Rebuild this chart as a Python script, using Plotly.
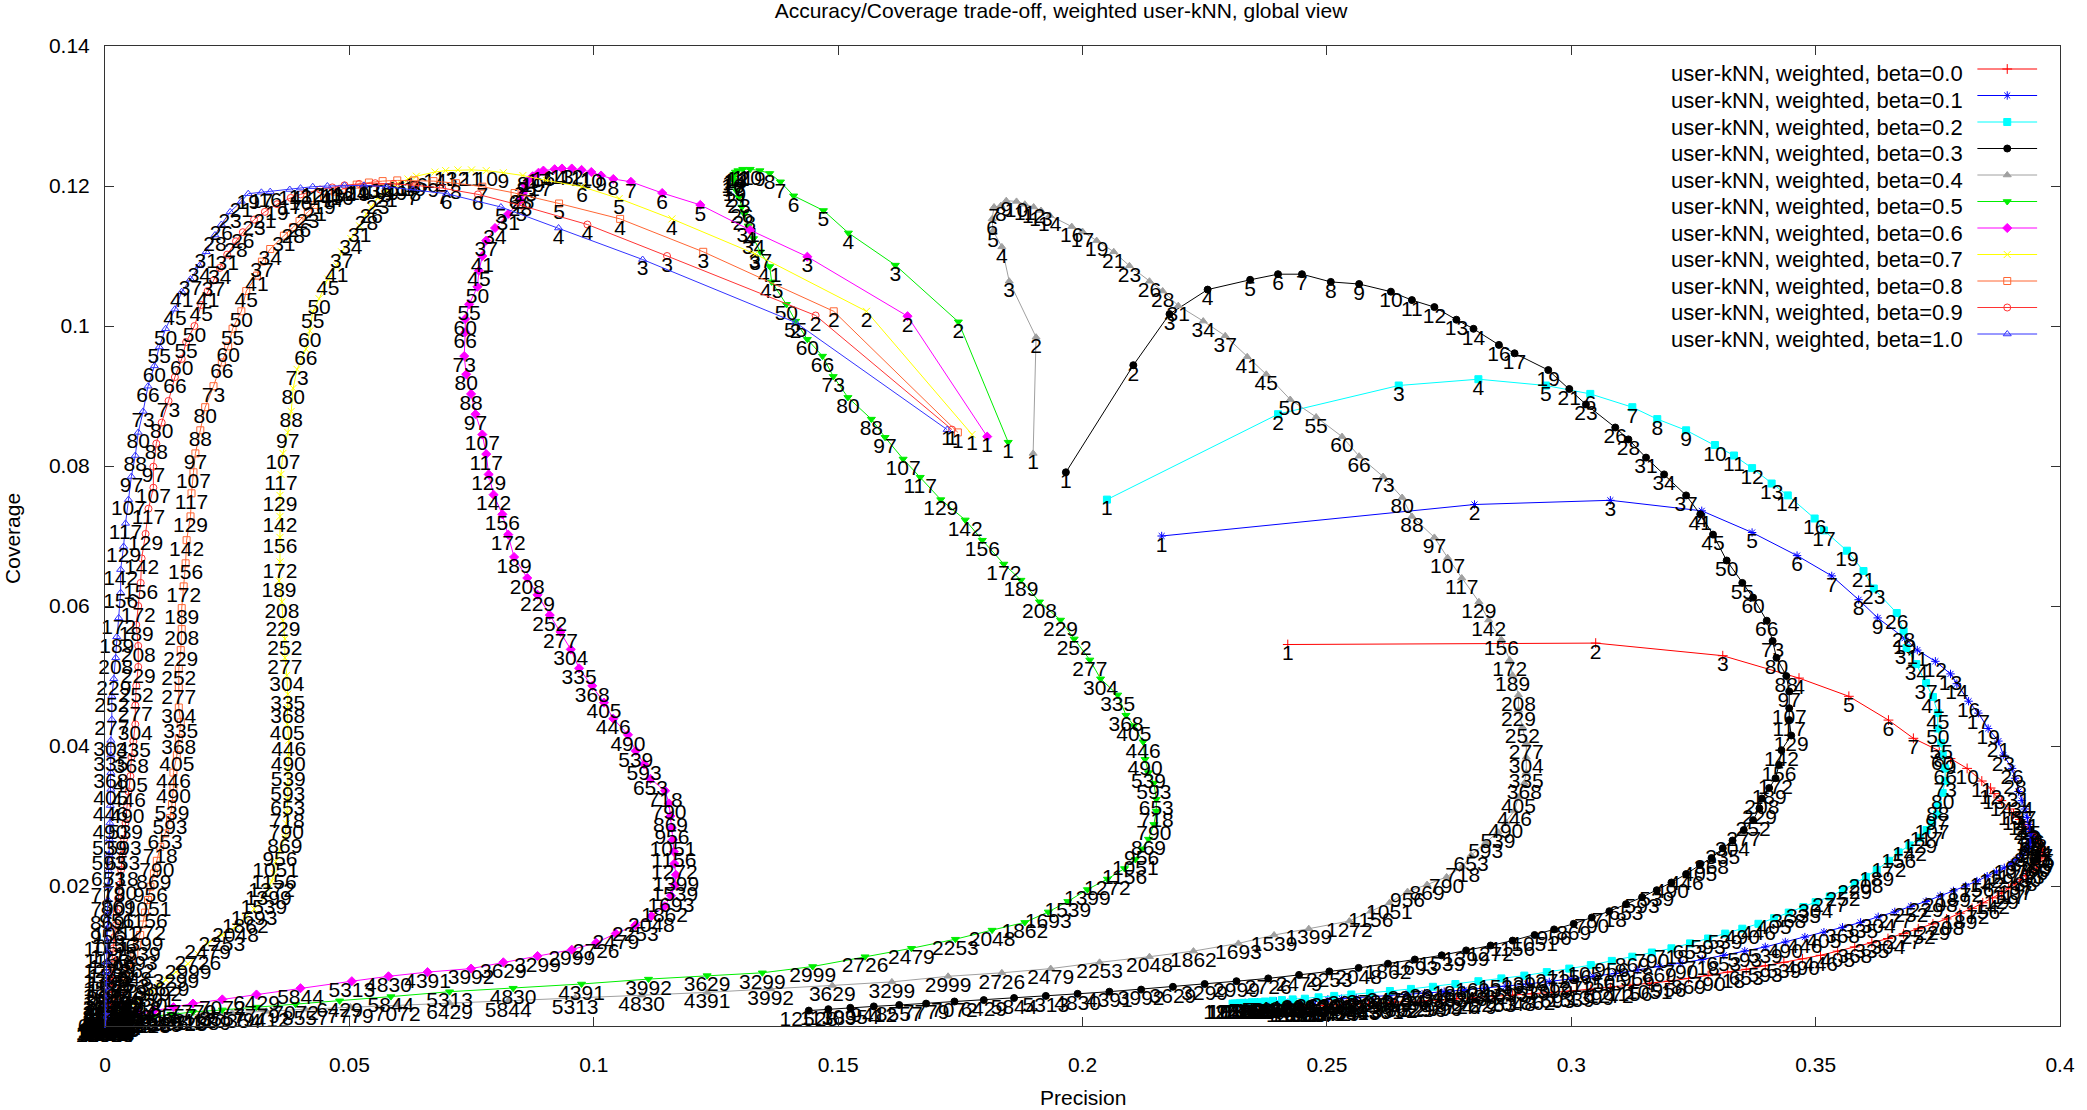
import plotly.graph_objects as go

# neighbourhood sizes k (point labels)
K = [1, 2, 3, 4, 5, 6, 7, 8, 9, 10,
     11, 12, 13, 14, 16, 17, 19, 21, 23, 26,
     28, 31, 34, 37, 41, 45, 50, 55, 60, 66,
     73, 80, 88, 97, 107, 117, 129, 142, 156, 172,
     189, 208, 229, 252, 277, 304, 335, 368, 405, 446,
     490, 539, 593, 653, 718, 790, 869, 956, 1051, 1156,
     1272, 1399, 1539, 1693, 1862, 2048, 2253, 2479, 2726, 2999,
     3299, 3629, 3992, 4391, 4830, 5313, 5844, 6429, 7072, 7779,
     8557, 9412, 10354, 11389, 12528]

BETAS = [0.0, 0.1, 0.2, 0.3, 0.4, 0.5, 0.6, 0.7, 0.8, 0.9, 1.0]

# ---- beta = 0.0 ----
P_B00 = [0.242, 0.305, 0.331, 0.3466, 0.3568, 0.3649, 0.370, 0.3753, 0.3776, 0.381,
         0.384, 0.3858, 0.3865, 0.388, 0.3897, 0.3905, 0.3918, 0.3928, 0.3935, 0.3945,
         0.395, 0.3955, 0.396, 0.3962, 0.3964, 0.3965, 0.3963, 0.396, 0.3957, 0.3952,
         0.3945, 0.3938, 0.393, 0.392, 0.3908, 0.3895, 0.388, 0.3862, 0.3842, 0.382,
         0.3795, 0.3768, 0.374, 0.371, 0.368, 0.3648, 0.3615, 0.358, 0.3545, 0.351,
         0.3473, 0.3435, 0.3397, 0.3358, 0.332, 0.328, 0.324, 0.320, 0.316, 0.312,
         0.308, 0.304, 0.300, 0.296, 0.292, 0.288, 0.284, 0.280, 0.2765, 0.273,
         0.2698, 0.2667, 0.2638, 0.261, 0.2585, 0.2562, 0.254, 0.252, 0.2502, 0.2486,
         0.2472, 0.246, 0.245, 0.2442, 0.2435]
C_B00 = [0.0545, 0.0547, 0.0529, 0.0497, 0.0471, 0.0437, 0.0411, 0.0393, 0.0382, 0.0368,
         0.0350, 0.0340, 0.0332, 0.0322, 0.0310, 0.0303, 0.0295, 0.0288, 0.0282, 0.0275,
         0.0270, 0.0265, 0.0260, 0.0256, 0.0252, 0.0248, 0.0244, 0.0240, 0.0236, 0.0231,
         0.0226, 0.0221, 0.0215, 0.0209, 0.0203, 0.0197, 0.0190, 0.0183, 0.0176, 0.0168,
         0.0161, 0.0153, 0.0146, 0.0139, 0.0132, 0.0125, 0.0119, 0.0113, 0.0107, 0.0101,
         0.0096, 0.0091, 0.0086, 0.0081, 0.0077, 0.0072, 0.0068, 0.0064, 0.0061, 0.0058,
         0.0055, 0.0052, 0.0050, 0.0048, 0.0046, 0.0044, 0.0042, 0.0040, 0.0039, 0.0037,
         0.0036, 0.0035, 0.0034, 0.0033, 0.0032, 0.0031, 0.0031, 0.0030, 0.0030, 0.0029,
         0.0029, 0.0029, 0.0028, 0.0028, 0.0028]

# ---- beta = 0.1 ----
P_B01 = [0.2162, 0.2802, 0.308, 0.3267, 0.337, 0.3462, 0.3533, 0.3588, 0.3627, 0.3682,
         0.3708, 0.3745, 0.3776, 0.3789, 0.3813, 0.3833, 0.3853, 0.3874, 0.3884, 0.3902,
         0.3908, 0.3915, 0.3922, 0.3928, 0.3933, 0.3937, 0.394, 0.3941, 0.394, 0.3938,
         0.3935, 0.393, 0.3922, 0.3912, 0.390, 0.3886, 0.387, 0.3851, 0.383, 0.3807,
         0.3782, 0.3755, 0.3726, 0.3695, 0.3662, 0.3628, 0.3592, 0.3555, 0.3517, 0.3478,
         0.3438, 0.3397, 0.3355, 0.3312, 0.3268, 0.3224, 0.318, 0.3135, 0.309, 0.3045,
         0.300, 0.2955, 0.291, 0.2866, 0.2823, 0.2781, 0.274, 0.270, 0.2662, 0.2626,
         0.2592, 0.256, 0.253, 0.2502, 0.2477, 0.2454, 0.2433, 0.2414, 0.2397, 0.2382,
         0.2369, 0.2358, 0.2348, 0.234, 0.2333]
C_B01 = [0.0700, 0.0745, 0.0751, 0.0736, 0.0705, 0.0672, 0.0643, 0.0609, 0.0583, 0.0554,
         0.0537, 0.0521, 0.0503, 0.0489, 0.0464, 0.0447, 0.0425, 0.0407, 0.0387, 0.0368,
         0.0354, 0.0335, 0.0322, 0.0310, 0.0298, 0.0288, 0.0278, 0.0271, 0.0265, 0.0260,
         0.0255, 0.0250, 0.0244, 0.0238, 0.0232, 0.0226, 0.0220, 0.0214, 0.0207, 0.0200,
         0.0193, 0.0186, 0.0178, 0.0171, 0.0163, 0.0156, 0.0148, 0.0141, 0.0134, 0.0127,
         0.0120, 0.0113, 0.0107, 0.0101, 0.0095, 0.0090, 0.0085, 0.0080, 0.0075, 0.0071,
         0.0067, 0.0063, 0.0060, 0.0057, 0.0054, 0.0051, 0.0049, 0.0047, 0.0045, 0.0043,
         0.0042, 0.0040, 0.0039, 0.0038, 0.0037, 0.0036, 0.0036, 0.0035, 0.0035, 0.0034,
         0.0034, 0.0034, 0.0033, 0.0033, 0.0033]

# ---- beta = 0.2 ----
P_B02 = [0.205, 0.240, 0.2647, 0.281, 0.2948, 0.3039, 0.3125, 0.3176, 0.3235, 0.3294,
         0.3333, 0.337, 0.341, 0.3443, 0.3498, 0.3517, 0.3564, 0.3598, 0.3619, 0.3666,
         0.368, 0.3686, 0.3706, 0.3726, 0.374, 0.375, 0.375, 0.3757, 0.376, 0.3765,
         0.3765, 0.376, 0.375, 0.3748, 0.3738, 0.3727, 0.3713, 0.3692, 0.367, 0.365,
         0.3625, 0.3603, 0.358, 0.3556, 0.3529, 0.350, 0.3475, 0.3445, 0.3415, 0.3383,
         0.335, 0.3315, 0.328, 0.3243, 0.3205, 0.3165, 0.3125, 0.3083, 0.304, 0.2996,
         0.295, 0.2904, 0.2857, 0.281, 0.2763, 0.2717, 0.2672, 0.2629, 0.2588, 0.255,
         0.2515, 0.2483, 0.2455, 0.243, 0.2408, 0.2389, 0.2373, 0.2359, 0.2347, 0.2337,
         0.2329, 0.2322, 0.2316, 0.2311, 0.2307]
C_B02 = [0.0752, 0.0874, 0.0915, 0.0924, 0.0915, 0.0903, 0.0884, 0.0867, 0.0851, 0.0830,
         0.0815, 0.0797, 0.0775, 0.0758, 0.0725, 0.0708, 0.0679, 0.0650, 0.0625, 0.0590,
         0.0564, 0.0540, 0.0517, 0.0490, 0.0470, 0.0447, 0.0425, 0.0404, 0.0388, 0.0368,
         0.0350, 0.0333, 0.0316, 0.0302, 0.0290, 0.0280, 0.0269, 0.0258, 0.0248, 0.0236,
         0.0223, 0.0213, 0.0204, 0.0194, 0.0185, 0.0177, 0.0170, 0.0162, 0.0154, 0.0146,
         0.0139, 0.0132, 0.0125, 0.0118, 0.0111, 0.0105, 0.0099, 0.0093, 0.0087, 0.0082,
         0.0077, 0.0072, 0.0068, 0.0064, 0.0060, 0.0056, 0.0053, 0.0050, 0.0047, 0.0045,
         0.0043, 0.0041, 0.0039, 0.0038, 0.0037, 0.0036, 0.0035, 0.0034, 0.0034, 0.0033,
         0.0033, 0.0033, 0.0032, 0.0032, 0.0032]

# ---- beta = 0.3 ----
P_B03 = [0.1966, 0.2104, 0.2178, 0.2256, 0.2343, 0.240, 0.2449, 0.2508, 0.2566, 0.2631,
         0.2674, 0.272, 0.2765, 0.280, 0.2852, 0.2884, 0.2953, 0.2996, 0.303, 0.309,
         0.3117, 0.3153, 0.319, 0.3235, 0.3264, 0.329, 0.3318, 0.335, 0.3372, 0.340,
         0.3412, 0.342, 0.344, 0.3446, 0.3446, 0.3446, 0.345, 0.343, 0.3425, 0.3418,
         0.3405, 0.339, 0.3385, 0.3372, 0.3353, 0.333, 0.331, 0.3287, 0.3263, 0.3235,
         0.3205, 0.3175, 0.3145, 0.3112, 0.3078, 0.3042, 0.3005, 0.2965, 0.2925, 0.288,
         0.2835, 0.2785, 0.2735, 0.268, 0.2625, 0.2565, 0.2505, 0.2443, 0.238, 0.2315,
         0.225, 0.2185, 0.212, 0.2055, 0.199, 0.1925, 0.186, 0.1798, 0.1738, 0.168,
         0.1625, 0.1573, 0.1525, 0.148, 0.144]
C_B03 = [0.0791, 0.0944, 0.1017, 0.1052, 0.1066, 0.1074, 0.1074, 0.1063, 0.1060, 0.1049,
         0.1037, 0.1027, 0.1009, 0.0996, 0.0973, 0.0961, 0.0937, 0.0910, 0.0888, 0.0855,
         0.0838, 0.0812, 0.0788, 0.0758, 0.0731, 0.0702, 0.0665, 0.0633, 0.0612, 0.0579,
         0.0550, 0.0526, 0.0500, 0.0478, 0.0454, 0.0437, 0.0415, 0.0394, 0.0373, 0.0354,
         0.0340, 0.0325, 0.0311, 0.0294, 0.0280, 0.0265, 0.0254, 0.0240, 0.0230, 0.0217,
         0.0205, 0.0194, 0.0184, 0.0174, 0.0164, 0.0155, 0.0146, 0.0138, 0.0130, 0.0122,
         0.0115, 0.0108, 0.0101, 0.0095, 0.0089, 0.0083, 0.0078, 0.0073, 0.0068, 0.0064,
         0.0060, 0.0056, 0.0052, 0.0049, 0.0046, 0.0043, 0.0040, 0.0037, 0.0035, 0.0032,
         0.0030, 0.0028, 0.0026, 0.0024, 0.0022]

# ---- beta = 0.4 ----
P_B04 = [0.1899, 0.1905, 0.185, 0.1835, 0.1817, 0.1815, 0.1819, 0.1833, 0.1844, 0.1865,
         0.1882, 0.190, 0.1915, 0.1933, 0.1978, 0.200, 0.2029, 0.2064, 0.2096, 0.2137,
         0.2164, 0.2196, 0.2247, 0.2292, 0.2337, 0.2376, 0.2425, 0.2478, 0.2531, 0.2566,
         0.2615, 0.2654, 0.2674, 0.272, 0.2747, 0.2776, 0.2811, 0.2831, 0.2857, 0.2874,
         0.288, 0.2892, 0.2892, 0.290, 0.2908, 0.2908, 0.2908, 0.2904, 0.2892, 0.2884,
         0.2866, 0.285, 0.2825, 0.2795, 0.2778, 0.2745, 0.2705, 0.2665, 0.2628, 0.259,
         0.2546, 0.2463, 0.2392, 0.2319, 0.2227, 0.2137, 0.2035, 0.1935, 0.1835, 0.1725,
         0.161, 0.1488, 0.1362, 0.1232, 0.1098, 0.0962, 0.0825, 0.0705, 0.0598, 0.0502,
         0.041, 0.033, 0.026, 0.020, 0.015]
C_B04 = [0.0818, 0.0984, 0.1064, 0.1113, 0.1136, 0.1153, 0.1170, 0.1172, 0.1179, 0.1178,
         0.1174, 0.1170, 0.1165, 0.1158, 0.1142, 0.1135, 0.1122, 0.1106, 0.1086, 0.1064,
         0.1050, 0.1029, 0.1007, 0.0986, 0.0956, 0.0931, 0.0895, 0.0870, 0.0842, 0.0814,
         0.0785, 0.0755, 0.0728, 0.0698, 0.0669, 0.0640, 0.0606, 0.0580, 0.0552, 0.0523,
         0.0501, 0.0473, 0.0451, 0.0427, 0.0404, 0.0384, 0.0362, 0.0347, 0.0327, 0.0308,
         0.0291, 0.0277, 0.0262, 0.0244, 0.0228, 0.0213, 0.0202, 0.0192, 0.0176, 0.0164,
         0.0150, 0.0139, 0.0130, 0.0118, 0.0107, 0.0099, 0.0091, 0.0082, 0.0076, 0.0071,
         0.0063, 0.0058, 0.0053, 0.0048, 0.0044, 0.0040, 0.0036, 0.0033, 0.0030, 0.0027,
         0.0024, 0.0021, 0.0019, 0.0017, 0.0015]

# ---- beta = 0.5 ----
P_B05 = [0.1848, 0.1746, 0.1617, 0.1521, 0.147, 0.1409, 0.1382, 0.136, 0.134, 0.132,
         0.1305, 0.1295, 0.129, 0.1287, 0.1285, 0.1286, 0.1288, 0.1292, 0.1297, 0.1303,
         0.1308, 0.1316, 0.1327, 0.1341, 0.136, 0.1364, 0.1394, 0.1413, 0.1437, 0.1468,
         0.149, 0.152, 0.1568, 0.1596, 0.1633, 0.1668, 0.171, 0.176, 0.1795, 0.1839,
         0.1874, 0.1912, 0.1955, 0.1983, 0.2015, 0.2037, 0.2072, 0.2089, 0.2105, 0.2124,
         0.2128, 0.2135, 0.2146, 0.2151, 0.2151, 0.2146, 0.2135, 0.2121, 0.2108, 0.2086,
         0.2051, 0.201, 0.197, 0.193, 0.1882, 0.1815, 0.174, 0.165, 0.1555, 0.1448,
         0.1345, 0.1232, 0.1112, 0.0975, 0.0835, 0.0705, 0.0585, 0.048, 0.039, 0.031,
         0.024, 0.018, 0.0135, 0.010, 0.0075]
C_B05 = [0.0834, 0.1006, 0.1087, 0.1133, 0.1165, 0.1186, 0.1206, 0.1218, 0.1222, 0.1224,
         0.1224, 0.1222, 0.1220, 0.1217, 0.1212, 0.1208, 0.1201, 0.1193, 0.1184, 0.1170,
         0.1160, 0.1143, 0.1125, 0.1106, 0.1085, 0.1063, 0.1031, 0.1007, 0.0981, 0.0957,
         0.0928, 0.0898, 0.0867, 0.0841, 0.0810, 0.0784, 0.0752, 0.0723, 0.0694, 0.0660,
         0.0637, 0.0606, 0.0580, 0.0553, 0.0523, 0.0496, 0.0473, 0.0444, 0.0429, 0.0406,
         0.0381, 0.0362, 0.0347, 0.0324, 0.0307, 0.0288, 0.0267, 0.0253, 0.0238, 0.0225,
         0.0210, 0.0195, 0.0178, 0.0163, 0.0148, 0.0137, 0.0124, 0.0111, 0.0099, 0.0085,
         0.0076, 0.0072, 0.0067, 0.0060, 0.0054, 0.0049, 0.0042, 0.0036, 0.0031, 0.0027,
         0.0023, 0.0020, 0.0017, 0.0014, 0.0012]

# ---- beta = 0.6 ----
P_B06 = [0.1805, 0.1642, 0.1437, 0.132, 0.1218, 0.114, 0.1076, 0.104, 0.1015, 0.0995,
         0.0975, 0.0955, 0.0935, 0.092, 0.0897, 0.0887, 0.0875, 0.0866, 0.086, 0.0855,
         0.085, 0.0825, 0.0798, 0.078, 0.0772, 0.0765, 0.0762, 0.0745, 0.0737, 0.0737,
         0.0735, 0.0739, 0.0749, 0.0758, 0.0772, 0.078, 0.0785, 0.0795, 0.0813, 0.0825,
         0.0837, 0.0864, 0.0885, 0.091, 0.0932, 0.0953, 0.097, 0.0997, 0.1021, 0.104,
         0.107, 0.1086, 0.1103, 0.1116, 0.1146, 0.1154, 0.1157, 0.116, 0.1162, 0.1164,
         0.1165, 0.1168, 0.1166, 0.1158, 0.1145, 0.1118, 0.1085, 0.1045, 0.1005, 0.0955,
         0.0885, 0.0815, 0.0749, 0.066, 0.058, 0.0505, 0.040, 0.031, 0.024, 0.018,
         0.014, 0.010, 0.007, 0.005, 0.0035]
C_B06 = [0.0842, 0.1014, 0.1099, 0.1137, 0.1173, 0.1190, 0.1206, 0.1210, 0.1215, 0.1220,
         0.1223, 0.1225, 0.1225, 0.1224, 0.1222, 0.1219, 0.1214, 0.1208, 0.1201, 0.1190,
         0.1180, 0.1160, 0.1140, 0.1122, 0.1100, 0.1079, 0.1056, 0.1031, 0.1010, 0.0991,
         0.0957, 0.0931, 0.0903, 0.0874, 0.0845, 0.0817, 0.0788, 0.0759, 0.0731, 0.0702,
         0.0670, 0.0640, 0.0616, 0.0587, 0.0563, 0.0538, 0.0511, 0.0486, 0.0462, 0.0439,
         0.0416, 0.0393, 0.0374, 0.0353, 0.0336, 0.0318, 0.0300, 0.0283, 0.0266, 0.0249,
         0.0232, 0.0216, 0.0201, 0.0186, 0.0171, 0.0157, 0.0144, 0.0132, 0.0119, 0.0109,
         0.0100, 0.0091, 0.0082, 0.0077, 0.0071, 0.0064, 0.0054, 0.0045, 0.0038, 0.0032,
         0.0027, 0.0022, 0.0018, 0.0015, 0.0012]

# ---- beta = 0.7 ----
P_B07 = [0.1774, 0.1558, 0.133, 0.116, 0.1052, 0.0976, 0.0903, 0.0855, 0.0815, 0.078,
         0.075, 0.0722, 0.0697, 0.0675, 0.0637, 0.062, 0.0595, 0.0575, 0.0558, 0.0545,
         0.0535, 0.0521, 0.0503, 0.0484, 0.0474, 0.0456, 0.0438, 0.0425, 0.0419, 0.0411,
         0.0393, 0.0385, 0.0381, 0.0374, 0.0364, 0.036, 0.0358, 0.0358, 0.0358, 0.0358,
         0.0356, 0.0362, 0.0364, 0.0368, 0.0368, 0.0372, 0.0374, 0.0374, 0.0373, 0.0376,
         0.0375, 0.0375, 0.0374, 0.0374, 0.0373, 0.0371, 0.0368, 0.0358, 0.0349, 0.0346,
         0.0341, 0.0334, 0.0325, 0.0305, 0.0287, 0.0267, 0.0239, 0.021, 0.019, 0.017,
         0.0145, 0.0125, 0.011, 0.0095, 0.008, 0.0068, 0.0057, 0.0047, 0.0039, 0.0032,
         0.0026, 0.0021, 0.0017, 0.0014, 0.0011]
C_B07 = [0.0845, 0.1021, 0.1103, 0.1153, 0.1182, 0.1199, 0.1208, 0.1215, 0.1219, 0.1222,
         0.1223, 0.1223, 0.1222, 0.1220, 0.1214, 0.1210, 0.1202, 0.1193, 0.1183, 0.1170,
         0.1160, 0.1143, 0.1125, 0.1106, 0.1086, 0.1067, 0.1039, 0.1020, 0.0993, 0.0967,
         0.0938, 0.0911, 0.0878, 0.0848, 0.0818, 0.0788, 0.0758, 0.0728, 0.0698, 0.0663,
         0.0636, 0.0606, 0.0579, 0.0553, 0.0526, 0.0501, 0.0474, 0.0455, 0.0431, 0.0408,
         0.0387, 0.0365, 0.0344, 0.0324, 0.0305, 0.0289, 0.0269, 0.0251, 0.0235, 0.0218,
         0.0207, 0.0196, 0.0183, 0.0167, 0.0155, 0.0142, 0.0130, 0.0118, 0.0103, 0.0089,
         0.0077, 0.0066, 0.0058, 0.0050, 0.0043, 0.0037, 0.0031, 0.0026, 0.0022, 0.0018,
         0.0015, 0.0012, 0.0010, 0.0008, 0.0007]

# ---- beta = 0.8 ----
P_B08 = [0.1745, 0.1491, 0.1224, 0.1054, 0.0929, 0.0838, 0.0772, 0.0718, 0.0672, 0.0633,
         0.0598, 0.0568, 0.054, 0.0515, 0.0485, 0.047, 0.0448, 0.043, 0.0415, 0.0398,
         0.0385, 0.0366, 0.0338, 0.0321, 0.0311, 0.0289, 0.0279, 0.0261, 0.0252, 0.0239,
         0.0222, 0.0205, 0.0195, 0.0185, 0.0181, 0.0177, 0.0175, 0.0167, 0.0165, 0.0161,
         0.0157, 0.0157, 0.0155, 0.0151, 0.0151, 0.0151, 0.0155, 0.0151, 0.0147, 0.014,
         0.014, 0.0137, 0.0133, 0.0123, 0.0113, 0.0106, 0.010, 0.0093, 0.0088, 0.0082,
         0.0077, 0.0072, 0.0066, 0.006, 0.0054, 0.0048, 0.0043, 0.0038, 0.0033, 0.0029,
         0.0025, 0.0022, 0.0019, 0.0016, 0.0014, 0.0012, 0.001, 0.0009, 0.0008, 0.0007,
         0.0006, 0.0005, 0.0004, 0.0004, 0.0003]
C_B08 = [0.0848, 0.1021, 0.1106, 0.1153, 0.1175, 0.1190, 0.1199, 0.1204, 0.1207, 0.1208,
         0.1208, 0.1207, 0.1205, 0.1202, 0.1196, 0.1192, 0.1183, 0.1173, 0.1163, 0.1150,
         0.1141, 0.1129, 0.1110, 0.1092, 0.1072, 0.1050, 0.1021, 0.0996, 0.0971, 0.0948,
         0.0914, 0.0884, 0.0851, 0.0818, 0.0791, 0.0761, 0.0728, 0.0694, 0.0661, 0.0628,
         0.0597, 0.0567, 0.0537, 0.0510, 0.0483, 0.0455, 0.0434, 0.0411, 0.0387, 0.0362,
         0.0341, 0.0317, 0.0297, 0.0275, 0.0256, 0.0236, 0.0218, 0.0199, 0.0180, 0.0162,
         0.0145, 0.0130, 0.0116, 0.0103, 0.0091, 0.0080, 0.0070, 0.0061, 0.0053, 0.0046,
         0.0040, 0.0035, 0.0030, 0.0026, 0.0022, 0.0019, 0.0016, 0.0014, 0.0012, 0.0010,
         0.0009, 0.0008, 0.0007, 0.0006, 0.0005]

# ---- beta = 0.9 ----
P_B09 = [0.1733, 0.1454, 0.115, 0.0987, 0.0852, 0.0763, 0.069, 0.0635, 0.059, 0.0553,
         0.052, 0.049, 0.0465, 0.044, 0.040, 0.038, 0.0352, 0.0327, 0.0305, 0.0282,
         0.0268, 0.025, 0.0235, 0.0222, 0.021, 0.0197, 0.0183, 0.0166, 0.0157, 0.0143,
         0.013, 0.0116, 0.0105, 0.0099, 0.0099, 0.0089, 0.0083, 0.0075, 0.0073, 0.0068,
         0.0064, 0.0068, 0.0068, 0.0064, 0.0062, 0.0062, 0.0058, 0.0054, 0.0052, 0.0048,
         0.0045, 0.0042, 0.0039, 0.0036, 0.0033, 0.003, 0.0027, 0.0024, 0.0022, 0.0019,
         0.0017, 0.0015, 0.0013, 0.0011, 0.001, 0.0009, 0.0008, 0.0007, 0.0006, 0.0005,
         0.0004, 0.0004, 0.0003, 0.0003, 0.0002, 0.0002, 0.0002, 0.0001, 0.0001, 0.0001,
         0.0001, 0.0001, 0.0001, 0.0, 0.0]
C_B09 = [0.0852, 0.1015, 0.1100, 0.1145, 0.1172, 0.1188, 0.1197, 0.1201, 0.1203, 0.1204,
         0.1203, 0.1201, 0.1198, 0.1195, 0.1188, 0.1183, 0.1174, 0.1163, 0.1152, 0.1134,
         0.1121, 0.1102, 0.1083, 0.1065, 0.1050, 0.1030, 0.1000, 0.0977, 0.0953, 0.0927,
         0.0893, 0.0862, 0.0832, 0.0799, 0.0769, 0.0739, 0.0703, 0.0668, 0.0633, 0.0600,
         0.0573, 0.0543, 0.0513, 0.0486, 0.0458, 0.0431, 0.0407, 0.0384, 0.0357, 0.0335,
         0.0313, 0.0290, 0.0267, 0.0245, 0.0223, 0.0202, 0.0182, 0.0162, 0.0144, 0.0127,
         0.0111, 0.0097, 0.0084, 0.0072, 0.0062, 0.0053, 0.0045, 0.0038, 0.0032, 0.0027,
         0.0023, 0.0019, 0.0016, 0.0013, 0.0011, 0.0009, 0.0008, 0.0007, 0.0006, 0.0005,
         0.0004, 0.0004, 0.0003, 0.0003, 0.0002]

# ---- beta = 1.0 ----
P_B10 = [0.1723, 0.1413, 0.110, 0.0928, 0.081, 0.0699, 0.063, 0.0575, 0.053, 0.049,
         0.0455, 0.0425, 0.040, 0.0378, 0.0338, 0.032, 0.0293, 0.0279, 0.0256, 0.0238,
         0.0225, 0.0207, 0.0193, 0.0175, 0.0157, 0.0143, 0.0124, 0.0111, 0.0101, 0.0088,
         0.0078, 0.0068, 0.0062, 0.0054, 0.0048, 0.0042, 0.0038, 0.0032, 0.0032, 0.0028,
         0.0024, 0.0022, 0.0018, 0.0014, 0.0014, 0.0012, 0.0012, 0.0012, 0.0012, 0.0011,
         0.001, 0.0009, 0.0008, 0.0007, 0.0006, 0.0006, 0.0005, 0.0005, 0.0004, 0.0004,
         0.0003, 0.0003, 0.0003, 0.0002, 0.0002, 0.0002, 0.00015, 0.00013, 0.0001, 0.0001,
         0.0001, 0.0001, 0.0001, 0.0001, 0.0, 0.0, 0.0, 0.0, 0.0, 0.0,
         0.0, 0.0, 0.0, 0.0, 0.0]
C_B10 = [0.0852, 0.1005, 0.1095, 0.1140, 0.1170, 0.1189, 0.1195, 0.1199, 0.1201, 0.1201,
         0.1200, 0.1199, 0.1197, 0.1195, 0.1192, 0.1191, 0.1189, 0.1178, 0.1163, 0.1145,
         0.1130, 0.1106, 0.1086, 0.1067, 0.1049, 0.1024, 0.0996, 0.0970, 0.0943, 0.0914,
         0.0878, 0.0848, 0.0815, 0.0785, 0.0752, 0.0718, 0.0685, 0.0652, 0.0619, 0.0583,
         0.0556, 0.0526, 0.0496, 0.0471, 0.0438, 0.0408, 0.0387, 0.0362, 0.0338, 0.0315,
         0.0290, 0.0267, 0.0245, 0.0222, 0.0200, 0.0180, 0.0160, 0.0140, 0.0122, 0.0106,
         0.0091, 0.0077, 0.0065, 0.0055, 0.0046, 0.0038, 0.0031, 0.0025, 0.0020, 0.0016,
         0.0013, 0.0010, 0.0008, 0.0006, 0.0005, 0.0004, 0.0003, 0.0002, 0.0002, 0.0001,
         0.0001, 0.0001, 0.0, 0.0, 0.0]

PRECISION = [P_B00, P_B01, P_B02, P_B03, P_B04, P_B05, P_B06, P_B07, P_B08, P_B09, P_B10]
COVERAGE = [C_B00, C_B01, C_B02, C_B03, C_B04, C_B05, C_B06, C_B07, C_B08, C_B09, C_B10]

for i, (p, c) in enumerate(zip(PRECISION, COVERAGE)):
    if len(p) != len(K) or len(c) != len(K):
        raise ValueError(f"series {i}: len P={len(p)} C={len(c)} K={len(K)}")

X_TICKS = [0, 0.05, 0.1, 0.15, 0.2, 0.25, 0.3, 0.35, 0.4]
X_TICK_TEXT = ["0", "0.05", "0.1", "0.15", "0.2", "0.25", "0.3", "0.35", "0.4"]
Y_TICKS = [0, 0.02, 0.04, 0.06, 0.08, 0.1, 0.12, 0.14]
Y_TICK_TEXT = ["0", "0.02", "0.04", "0.06", "0.08", "0.1", "0.12", "0.14"]

COLORS = ["#ff0000", "#0000ff", "#00ffff", "#000000", "#a0a0a0", "#00ee00",
          "#ff00ff", "#ffff00", "#ff6633", "#ff3333", "#3333ff"]
SYMBOLS = ["cross-thin-open", "asterisk-open", "square", "circle", "triangle-up",
           "triangle-down", "diamond", "x-thin-open", "square-open", "circle-open",
           "triangle-up-open"]

FONT = "Liberation Sans"
W, H = 2087, 1110
L, R, T, B = 105, 18, 46, 84
PW, PH = W - L - R, H - T - B

fig = go.Figure()

for i, b in enumerate(BETAS):
    col = COLORS[i]
    fig.add_trace(go.Scatter(
        x=PRECISION[i], y=COVERAGE[i], mode="lines+markers",
        line=dict(color=col, width=1),
        marker=dict(symbol=SYMBOLS[i], size=7, color=col, line=dict(color=col, width=1)),
        cliponaxis=False, showlegend=False, hoverinfo="skip"))
    fig.add_trace(go.Scatter(
        x=PRECISION[i], y=COVERAGE[i], mode="text",
        text=[str(k) for k in K], textposition="bottom center",
        textfont=dict(family=FONT, size=21, color="black"),
        cliponaxis=False, showlegend=False, hoverinfo="skip"))

# key (gnuplot style: text right-aligned, sample on the right)
annotations = []
for i, b in enumerate(BETAS):
    col = COLORS[i]
    ypix = 69 + 26.5 * i
    yp = (H - B - ypix) / PH
    x0 = (1986 - L) / PW
    x1 = (2046 - L) / PW
    xm = (2016 - L) / PW
    fig.add_trace(go.Scatter(x=[x0, x1], y=[yp, yp], xaxis="x2", yaxis="y2",
                             mode="lines", line=dict(color=col, width=1),
                             showlegend=False, hoverinfo="skip"))
    fig.add_trace(go.Scatter(x=[xm], y=[yp], xaxis="x2", yaxis="y2", mode="markers",
                             marker=dict(symbol=SYMBOLS[i], size=7, color=col,
                                         line=dict(color=col, width=1)),
                             showlegend=False, hoverinfo="skip"))
    annotations.append(dict(x=(1974 - L) / PW, y=yp, xref="paper", yref="paper",
                            xanchor="right", yanchor="middle", yshift=-5,
                            text=f"user-kNN, weighted, beta={b:.1f}", showarrow=False,
                            font=dict(family=FONT, size=22, color="black")))

annotations.append(dict(x=0.5, y=0, xref="paper", yref="paper", xanchor="center",
                        yanchor="middle", yshift=-71, text="Precision", showarrow=False,
                        font=dict(family=FONT, size=21, color="black")))
annotations.append(dict(x=0, y=0.497, xref="paper", yref="paper", xanchor="center",
                        yanchor="middle", xshift=-92, textangle=-90, text="Coverage",
                        showarrow=False, font=dict(family=FONT, size=21, color="black")))

axis_common = dict(ticks="inside", ticklen=9, tickwidth=1, tickcolor="#333333",
                   showline=True, linecolor="#333333", linewidth=1, mirror="ticks",
                   showgrid=False, zeroline=False,
                   tickfont=dict(family=FONT, size=21, color="black"))

fig.update_layout(
    width=W, height=H, margin=dict(l=L, r=R, t=T, b=B, pad=0),
    paper_bgcolor="white", plot_bgcolor="white", showlegend=False,
    font=dict(family=FONT, size=21, color="black"),
    title=dict(text="Accuracy/Coverage trade-off, weighted user-kNN, global view",
               x=1061 / W, xanchor="center", xref="container",
               y=1 - 11 / H, yanchor="middle", yref="container",
               font=dict(family=FONT, size=21, color="black")),
    xaxis=dict(range=[0, 0.4], tickvals=X_TICKS, ticktext=X_TICK_TEXT,
               ticklabelstandoff=20, **axis_common),
    yaxis=dict(range=[0, 0.14], tickvals=Y_TICKS, ticktext=Y_TICK_TEXT,
               ticklabelstandoff=10, **axis_common),
    xaxis2=dict(overlaying="x", range=[0, 1], visible=False, fixedrange=True),
    yaxis2=dict(overlaying="y", range=[0, 1], visible=False, fixedrange=True),
    annotations=annotations,
    hovermode=False,
)

fig.write_html("out.html")
